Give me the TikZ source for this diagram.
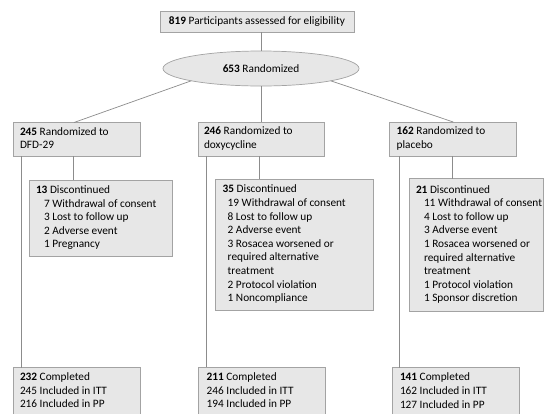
\documentclass[tikz,border=0pt]{standalone}
\usepackage{fontspec}
\setmainfont{Carlito}
\usetikzlibrary{shapes.geometric,calc}
\definecolor{boxfill}{HTML}{E7E7E7}
\definecolor{boxdraw}{HTML}{A3A3A3}
\definecolor{linkcol}{HTML}{8C8C8C}
\newcommand{\boxtxt}[2]{\makebox[#1][l]{\begin{tabular}{@{}l@{}}#2\end{tabular}}}
\newcommand{\ind}[1]{\hspace*{#1pt}}
\tikzset{
  box/.style={draw=boxdraw, fill=boxfill, line width=0.7pt, anchor=north west,
    inner ysep=0pt, outer sep=0pt, font=\fontsize{11.3}{13.6}\selectfont},
  oval/.style={ellipse, draw=boxdraw, fill=boxfill, line width=0.7pt,
    inner sep=0pt, outer sep=0pt, minimum width=196pt, minimum height=35pt,
    font=\fontsize{11.3}{13.6}\selectfont},
  link/.style={draw=linkcol, line width=0.7pt},
}
\begin{document}
\begin{tikzpicture}[x=1pt, y=-1pt]
\useasboundingbox (0,0) rectangle (545,413);
\fill[white] (0,0) rectangle (545,413);
\clip (0,0) rectangle (545,413);

% top
\node[box, minimum width=194pt, minimum height=21.3pt, inner xsep=0pt] (top) at (160,11)
  {\textbf{819} Participants assessed for eligibility};
\node[oval] (e) at (261,68.5) {\textbf{653} Randomized};

% randomized arms
\node[box, minimum width=126.7pt, minimum height=33.5pt, inner xsep=6.7pt] (r1) at (13.3,122.5)
  {\boxtxt{113.3pt}{\textbf{245} Randomized to\\DFD-29}};
\node[box, minimum width=126.2pt, minimum height=34pt, inner xsep=5.7pt] (r2) at (198.3,122)
  {\boxtxt{114.8pt}{\textbf{246} Randomized to\\doxycycline}};
\node[box, minimum width=127.4pt, minimum height=34pt, inner xsep=7.4pt] (r3) at (389.3,122)
  {\boxtxt{112.6pt}{\textbf{162} Randomized to\\placebo}};

% discontinued
\node[box, minimum width=143pt, minimum height=76pt, inner xsep=6.7pt] (d1) at (29.3,180)
  {\boxtxt{129.6pt}{\textbf{13} Discontinued\\
   \ind{8}7 Withdrawal of consent\\
   \ind{8}3 Lost to follow up\\
   \ind{8}2 Adverse event\\
   \ind{8}1 Pregnancy}};
\node[box, minimum width=158pt, minimum height=131pt, inner xsep=7.7pt] (d2) at (215,179)
  {\boxtxt{142.6pt}{\textbf{35} Discontinued\\
   \ind{5}19 Withdrawal of consent\\
   \ind{5}8 Lost to follow up\\
   \ind{5}2 Adverse event\\
   \ind{5}3 Rosacea worsened or\\
   \ind{5}required alternative\\
   \ind{5}treatment\\
   \ind{5}2 Protocol violation\\
   \ind{5}1 Noncompliance}};
\node[box, minimum width=134pt, minimum height=132.5pt, inner xsep=7pt] (d3) at (409,178.5)
  {\boxtxt{120pt}{\textbf{21} Discontinued\\
   \ind{8}11 Withdrawal of consent\\
   \ind{8}4 Lost to follow up\\
   \ind{8}3 Adverse event\\
   \ind{8}1 Rosacea worsened or\\
   \ind{8}required alternative\\
   \ind{8}treatment\\
   \ind{8}1 Protocol violation\\
   \ind{8}1 Sponsor discretion}};

% completed
\node[box, minimum width=126.7pt, minimum height=48.2pt, inner xsep=6.7pt] (c1) at (13.3,367.5)
  {\boxtxt{113.3pt}{\textbf{232} Completed\\245 Included in ITT\\216 Included in PP}};
\node[box, minimum width=127.4pt, minimum height=48.2pt, inner xsep=8.4pt] (c2) at (198.3,367.3)
  {\boxtxt{110.6pt}{\textbf{211} Completed\\246 Included in ITT\\194 Included in PP}};
\node[box, minimum width=127pt, minimum height=48.2pt, inner xsep=7.7pt] (c3) at (392.3,367.7)
  {\boxtxt{111.6pt}{\textbf{141} Completed\\162 Included in ITT\\127 Included in PP}};

% connectors
\draw[link] (e.north) -- (e.north |- top.south);
\draw[link] (e.190) -- ($(r1.north west)+(60.7,0)$);
\draw[link] (e.south) -- (e.south |- r2.north);
\draw[link] (e.-10) -- ($(r3.north west)+(64,0)$);

\coordinate (k1) at ($(r1.south west)+(59.7,0)$);
\coordinate (k2) at ($(r2.south west)+(60.7,0)$);
\coordinate (k3) at ($(r3.south west)+(63.4,0)$);
\draw[link] (k1) -- (k1 |- d1.north);
\draw[link] (k2) -- (k2 |- d2.north);
\draw[link] (k3) -- (k3 |- d3.north);

\coordinate (v1) at ($(r1.south west)+(8.4,0)$);
\coordinate (v2) at ($(r2.south west)+(8.4,0)$);
\coordinate (v3) at ($(r3.south west)+(9.7,0)$);
\draw[link] (v1) -- (v1 |- c1.north);
\draw[link] (v2) -- (v2 |- c2.north);
\draw[link] (v3) -- (v3 |- c3.north);
\end{tikzpicture}
\end{document}
